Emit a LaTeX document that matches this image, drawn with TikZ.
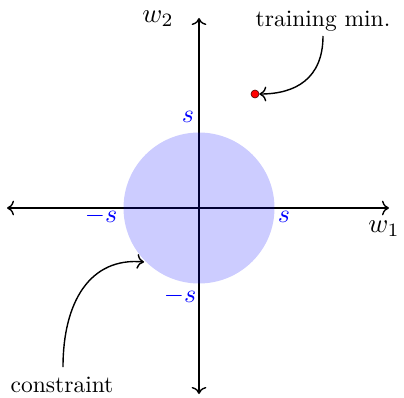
\documentclass[tikz,border=0pt]{standalone}
\usetikzlibrary{arrows.meta}
\begin{document}
\begin{tikzpicture}[x=1pt,y=1pt, >={To[scale=1.5]},
  lab/.style={scale=2.35},
  mlab/.style={scale=2.7},
  slab/.style={scale=2.6, text=blue},
  axis/.style={line width=1.4pt,<->},
  pointer/.style={line width=1.4pt,->}]
\useasboundingbox (0,0) rectangle (404,397);
\coordinate (O) at (199,189);
\coordinate (xl) at (7,189);
\coordinate (xr) at (389,189);
\coordinate (yb) at (199,3);
\coordinate (yt) at (199,379);
\draw[axis] (xl) -- (xr);
\draw[axis] (yb) -- (yt);
\fill[blue, fill opacity=0.2] (O) circle (75.5);
\node[mlab] (w2) at (158,378) {$w_2$};
\node[mlab] (w1) at (384,168) {$w_1$};
\node[slab] (st) at (188,280) {$s$};
\node[slab] (sr) at (284,180) {$s$};
\node[slab] (sl) at (101,181) {$-s$};
\node[slab] (sb) at (180,101) {$-s$};
\node[circle, fill=red, draw=black!70!red, line width=0.6pt, inner sep=0pt, minimum size=8pt] (dot) at (255,303) {};
\node[lab] (tmin) at (323,376) {training min.};
\node[lab] (cons) at (62,12) {constraint};
\coordinate (cb) at (144,135);
\coordinate (t0) at (323,361);
\coordinate (c0) at (63,30);
\draw[pointer] (t0) .. controls (323,318) and (295,303) .. (dot.east);
\draw[pointer] (c0) .. controls (63,95) and (90,140) .. (cb);
\end{tikzpicture}
\end{document}
